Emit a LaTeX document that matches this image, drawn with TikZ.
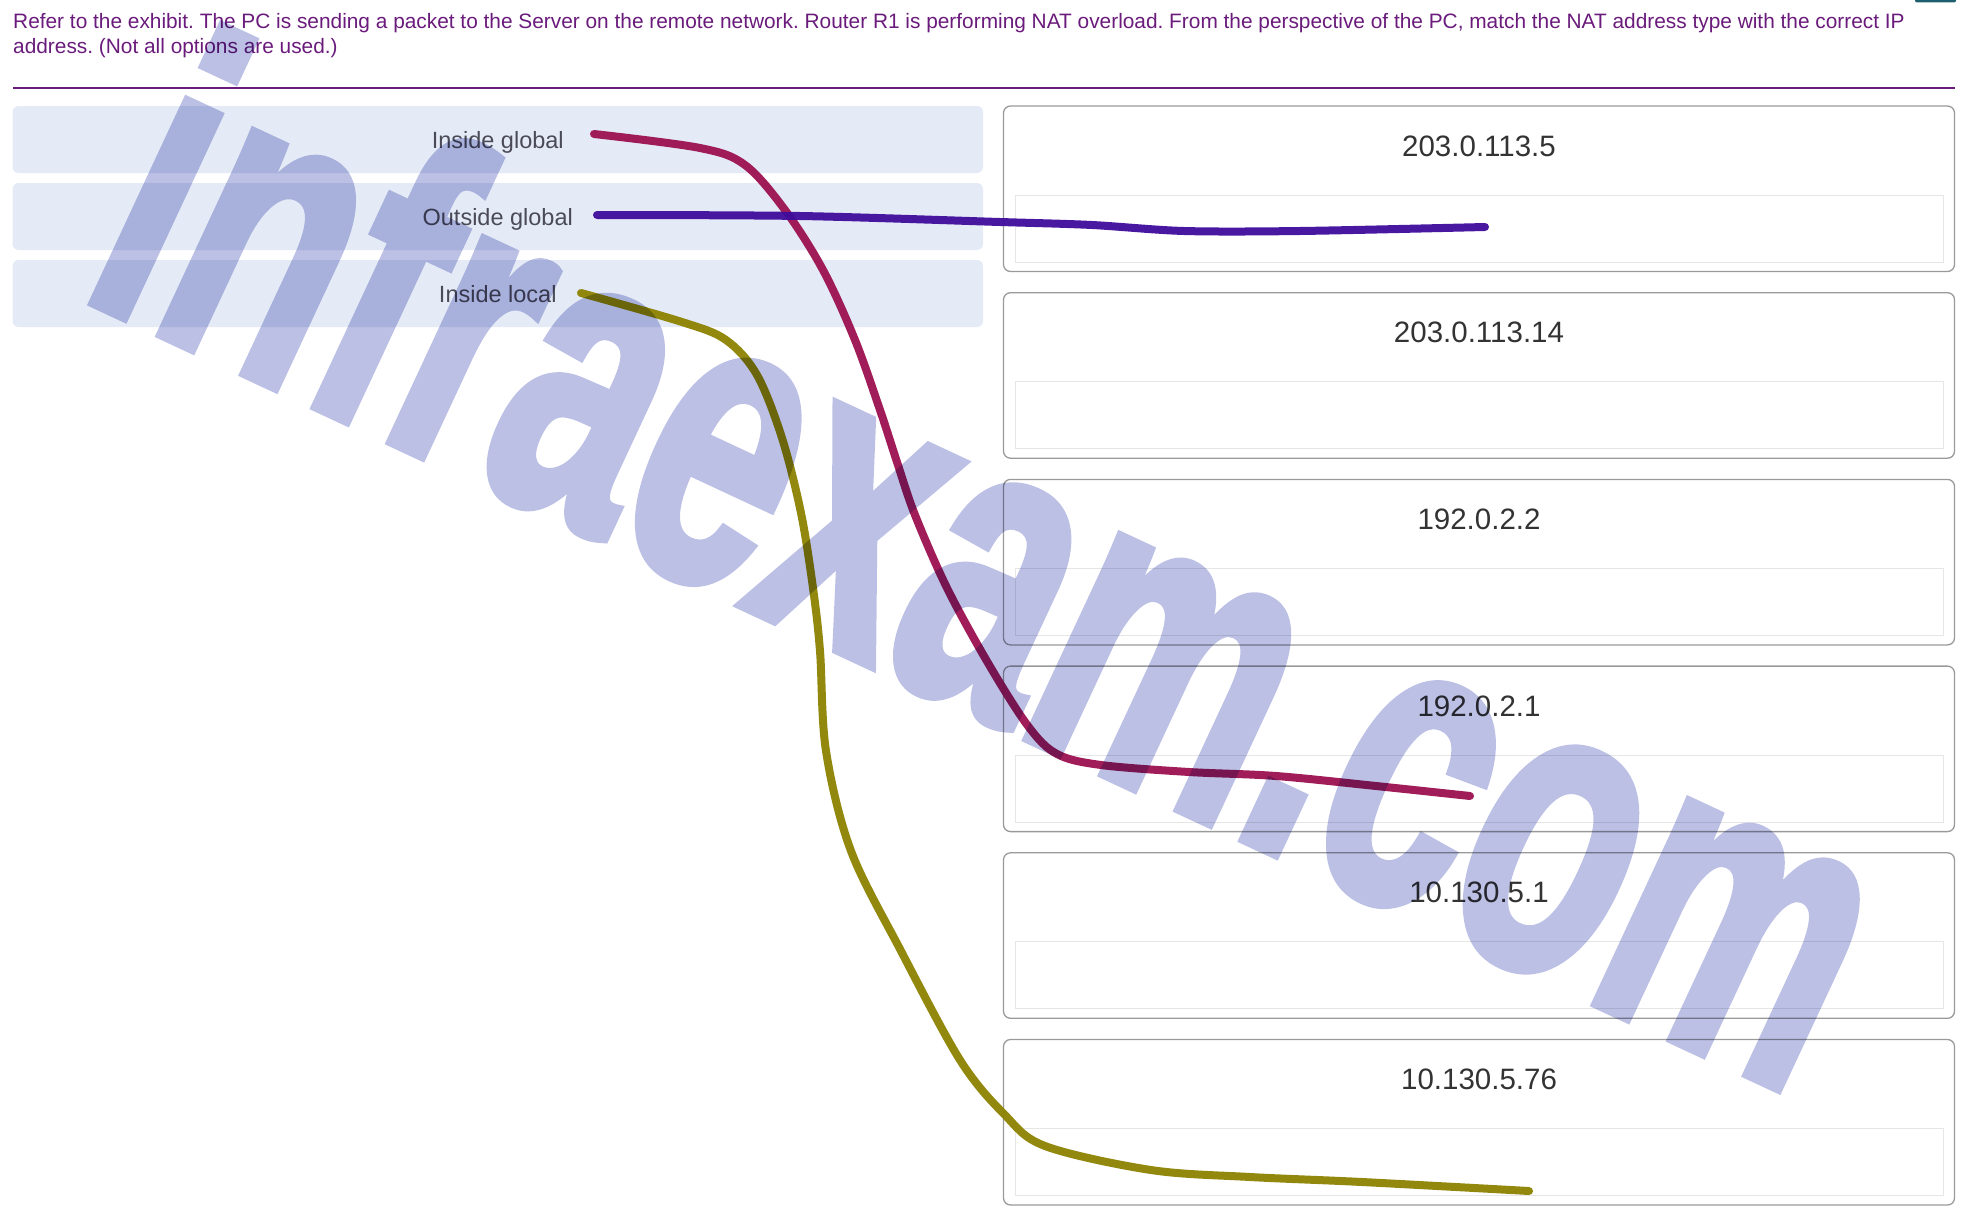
\documentclass[tikz,border=0pt]{standalone}
\usepackage{fontspec}
\setmainfont{Liberation Sans}
\newfontfamily\wmfont[FakeBold=2.5]{Liberation Sans Bold}
\usetikzlibrary{positioning}
\definecolor{qpurple}{HTML}{6A1B7B}
\definecolor{optfill}{HTML}{E4EBF7}
\definecolor{optgrey}{HTML}{4B4B57}
\definecolor{ipgrey}{HTML}{333333}
\definecolor{boxline}{HTML}{9A9A9A}
\definecolor{slotline}{HTML}{E6E6E6}
\definecolor{penred}{HTML}{9C1150}
\definecolor{penblue}{HTML}{3F0C9C}
\definecolor{penolive}{HTML}{8C8200}
\definecolor{wmark}{HTML}{BCC0E4}
\definecolor{btnteal}{HTML}{1F5F6F}
\frenchspacing

\begin{document}
\begin{tikzpicture}[x=1pt, y=-1pt,
	optbox/.style={rectangle, rounded corners=6, fill=optfill, minimum width=970.5, minimum height=67, text=optgrey, text depth=0pt, font=\fontsize{23.5}{28}\selectfont},
	ansbox/.style={rectangle, rounded corners=7, draw=boxline, line width=1.3, minimum width=951, minimum height=165.5},
	slotbox/.style={rectangle, draw=slotline, line width=0.8, minimum width=928, minimum height=67},
	iplabel/.style={text=ipgrey, inner sep=0, font=\fontsize{29.5}{35}\selectfont},
	pen/.style={line width=8, line cap=round, line join=round, opacity=0.95}]
	\useasboundingbox (0,0) rectangle (1962,1215);
	% Question and rule:
	\node[anchor=north west, align=left, inner sep=0, text=qpurple, font=\fontsize{20.85}{25}\selectfont] (question) at (13,13.5) {Refer to the exhibit. The PC is sending a packet to the Server on the remote network. Router R1 is performing NAT overload. From the perspective of the PC, match the NAT address type with the correct IP\\address. (Not all options are used.)};
	\draw[qpurple, line width=1.3] (13,88) -- (1955,88);
	\fill[btnteal, rounded corners=2] (1915,-4) rectangle (1956,2.5);
	% Options on the left:
	\node[optbox] (ig) at (497.75,139.5) {Inside global};
	\node[optbox] (og) at (497.75,216.5) {Outside global};
	\node[optbox] (il) at (497.75,293.5) {Inside local};
	% Answer boxes on the right:
	\foreach \ip [count=\i from 0] in {203.0.113.5, 203.0.113.14, 192.0.2.2, 192.0.2.1, 10.130.5.1, 10.130.5.76}{
		\node[ansbox] (ans\i) at (1479,106+82.75+186.7*\i) {};
		\node[iplabel] (ip\i) at (1479,146+186.7*\i) {\ip};
		\node[slotbox] (slot\i) at (1479,228.5+186.7*\i) {};
	}
	% Pen strokes:
	\coordinate (igpen) at (594,134);
	\coordinate (ogpen) at (597,215);
	\coordinate (ilpen) at (581,293);
	\coordinate (ans3pen) at (1470,796);
	\coordinate (ans0pen) at (1485,227);
	\coordinate (ans5pen) at (1529,1191);
	\draw[pen, penred] plot[smooth, tension=0.55] coordinates {(igpen) (700,148) (745,165) (785,210) (823,270) (855,340) (880,410) (897,462) (915,515) (947,588) (988,663) (1028,726) (1057,754) (1101,765) (1189,772) (1276,776) (1376,786) (ans3pen)};
	\draw[pen, penblue] plot[smooth, tension=0.5] coordinates {(ogpen) (800,216) (1000,222) (1092,225) (1184,231) (1300,231) (ans0pen)};
	\draw[pen, penolive] plot[smooth, tension=0.55] coordinates {(ilpen) (682,322) (726,340) (757,375) (782,438) (801,513) (813,588) (820,651) (826,751) (851,851) (901,951) (960,1060) (1004,1114) (1045,1146) (1151,1170) (1250,1177) (1362,1182) (ans5pen)};
	% Watermark:
	\begin{scope}[blend mode=multiply]
	\begin{scope}[transparency group]
	\node[anchor=base, rotate=-25, xscale=0.64, inner sep=0, text=wmark, font=\wmfont\fontsize{420}{420}\selectfont] (wm) at (935,695) {infraexam.com};
	\end{scope}
	\end{scope}
\end{tikzpicture}
\end{document}
